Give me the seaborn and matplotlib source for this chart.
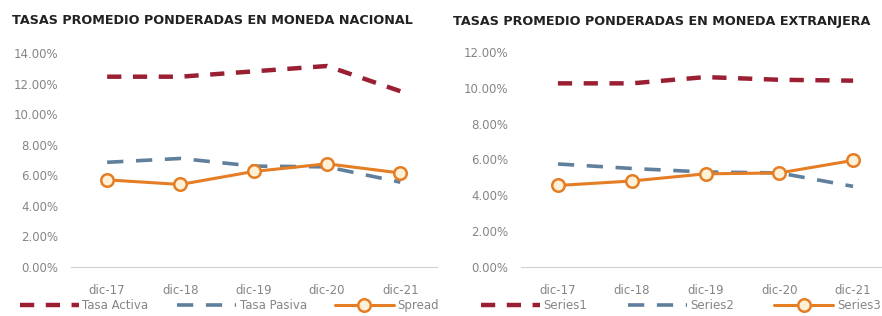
import numpy as np
import pandas as pd
import matplotlib
matplotlib.use("Agg")
import matplotlib.pyplot as plt
import seaborn as sns
from matplotlib.ticker import FuncFormatter, MultipleLocator

# datos
periodos = ['dic-17', 'dic-18', 'dic-19', 'dic-20', 'dic-21']

# moneda nacional (%)
tasa_activa = [12.45, 12.45, 12.8, 13.15, 11.5]
tasa_pasiva = [6.85, 7.1, 6.6, 6.55, 5.55]
spread = [5.7, 5.4, 6.25, 6.75, 6.15]

# moneda extranjera (%)
serie1 = [10.25, 10.25, 10.6, 10.45, 10.4]
serie2 = [5.75, 5.5, 5.3, 5.25, 4.5]
serie3 = [4.55, 4.8, 5.2, 5.25, 5.95]

sns.set_theme(style='white')
plt.rcParams['font.family'] = ['DejaVu Sans']

rojo = '#9A1F33'
azul = '#5F7F9C'
naranja = '#E57D24'
gris = '#858585'


def dibujar(ax, s1, s2, s3, nombres, ymax, leg_x, espacio):
    x = np.arange(len(periodos))
    sns.lineplot(x=x, y=s1, ax=ax, color=rojo, lw=3.2, label=nombres[0],
                 linestyle=(0, (3.2, 2.6)))
    sns.lineplot(x=x, y=s2, ax=ax, color=azul, lw=2.6, label=nombres[1],
                 linestyle=(0, (4.5, 3.5)))
    sns.lineplot(x=x, y=s3, ax=ax, color=naranja, lw=2.2, label=nombres[2],
                 marker='o', markersize=9, markerfacecolor='#FFF1D6',
                 markeredgecolor=naranja, markeredgewidth=1.8)
    ax.set_xlim(-0.5, len(periodos) - 0.5)
    ax.set_ylim(0, ymax)
    ax.set_xticks(x)
    ax.set_xticklabels(periodos)
    ax.yaxis.set_major_locator(MultipleLocator(2))
    ax.yaxis.set_major_formatter(FuncFormatter(lambda v, p: f'{v:.2f}%'))
    ax.tick_params(axis='y', labelsize=8.5, colors=gris, length=0, pad=9)
    ax.tick_params(axis='x', labelsize=8.5, colors=gris, length=0, pad=12)
    for s in ['top', 'right', 'left']:
        ax.spines[s].set_visible(False)
    ax.spines['bottom'].set_color('#D0D0D0')
    ax.spines['bottom'].set_linewidth(0.8)
    ax.set_xlabel('')
    ax.set_ylabel('')
    leg = ax.legend(loc='center left', bbox_to_anchor=(leg_x, -0.18), ncol=3,
                    frameon=False, fontsize=8.5, handlelength=5.0,
                    columnspacing=espacio, handletextpad=0.3,
                    borderaxespad=0, borderpad=0)
    for t in leg.get_texts():
        t.set_color(gris)


fig = plt.figure(figsize=(8.82, 3.16), dpi=100)
W, H = 882, 316
ax1 = fig.add_axes([70.5 / W, (H - 267) / H, 366.5 / W, 214 / H])
ax2 = fig.add_axes([521 / W, (H - 267) / H, 369 / W, 215 / H])

dibujar(ax1, tasa_activa, tasa_pasiva, spread,
        ['Tasa Activa', 'Tasa Pasiva', 'Spread'], 14, -0.138, 2.4)
dibujar(ax2, serie1, serie2, serie3,
        ['Series1', 'Series2', 'Series3'], 12, -0.108, 3.4)

fig.text(12 / W, 1 - 21 / H, 'TASAS PROMEDIO PONDERADAS EN MONEDA NACIONAL',
         fontsize=9.2, fontweight='bold', color='#222222', va='center')
fig.text(453 / W, 1 - 21 / H, 'TASAS PROMEDIO PONDERADAS EN MONEDA EXTRANJERA',
         fontsize=9.2, fontweight='bold', color='#222222', va='center')

plt.savefig('out.png', dpi=100)
